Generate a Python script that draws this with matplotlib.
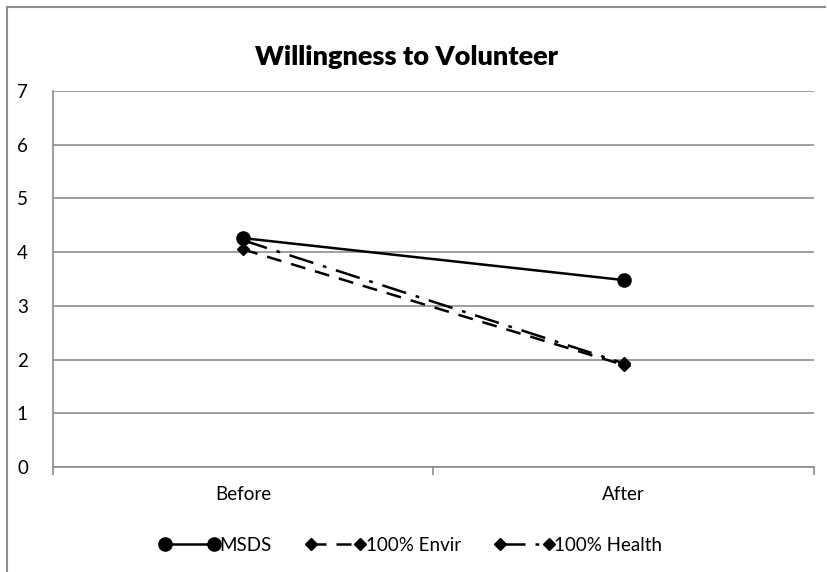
import matplotlib
matplotlib.use('Agg')
import matplotlib.pyplot as plt
from matplotlib.lines import Line2D
import numpy as np

# data
categories = ['Before', 'After']
msds = [4.26, 3.48]
envir = [4.05, 1.90]
health = [4.22, 1.93]

plt.rcParams['font.family'] = ['Lato', 'DejaVu Sans']

fig = plt.figure(figsize=(8.27, 5.72), dpi=100)
ax = fig.add_axes([0.064, 0.1836, 0.920, 0.6574])

x = np.arange(len(categories)) + 0.5

ax.plot(x, envir, color='black', lw=1.8, dashes=(6, 4), marker='D',
        markersize=6.5, label='100% Envir', zorder=3)
ax.plot(x, health, color='black', lw=1.8, dashes=(10, 4, 1.5, 4), marker='D',
        markersize=6.5, label='100% Health', zorder=3)
ax.plot(x, msds, color='black', lw=1.8, marker='o', markersize=9.5,
        label='MSDS', zorder=4)

ax.set_xlim(0, 2)
ax.set_ylim(0, 7)
ax.set_yticks(range(0, 8))
ax.yaxis.grid(True, color='#8c8c8c', lw=1.2)
ax.set_axisbelow(True)

# category boundaries for tick marks, labels at centers
ax.set_xticks([0, 1, 2])
ax.set_xticklabels([])
ax.set_xticks(x, minor=True)
ax.set_xticklabels(categories, minor=True)
ax.tick_params(axis='x', which='major', length=6, width=1.2, color='#8c8c8c', direction='out')
ax.tick_params(axis='x', which='minor', length=0, pad=14, labelsize=13.5)
ax.tick_params(axis='y', length=0, pad=18, labelsize=13.5)
for lab in ax.get_yticklabels():
    lab.set_horizontalalignment('right')

for s in ['top', 'right']:
    ax.spines[s].set_visible(False)
for s in ['left', 'bottom']:
    ax.spines[s].set_color('#8c8c8c')
    ax.spines[s].set_linewidth(1.2)

fig.text(0.492, 0.90, 'Willingness to Volunteer', ha='center', va='center',
         fontsize=19.5, fontweight='heavy')

handles = [
    Line2D([], [], color='black', lw=1.8, marker='o', markersize=9.5),
    Line2D([], [], color='black', lw=1.8, dashes=(6, 4), marker='D', markersize=6.5),
    Line2D([], [], color='black', lw=1.8, dashes=(10, 4, 1.5, 4), marker='D', markersize=6.5),
]
fig.legend(handles, ['MSDS', '100% Envir', '100% Health'], loc='center',
           bbox_to_anchor=(0.497, 0.047), ncol=3, frameon=False, fontsize=13.5,
           numpoints=2, handlelength=3.2, handletextpad=0.0, columnspacing=1.8)

# outer chart border
fig.add_artist(Line2D([0.008, 0.008], [0.0, 0.987], transform=fig.transFigure,
                      color='#8c8c8c', lw=1.5))
fig.add_artist(Line2D([0.008, 0.997], [0.987, 0.987], transform=fig.transFigure,
                      color='#8c8c8c', lw=1.5))

fig.savefig('out.png', dpi=100)
